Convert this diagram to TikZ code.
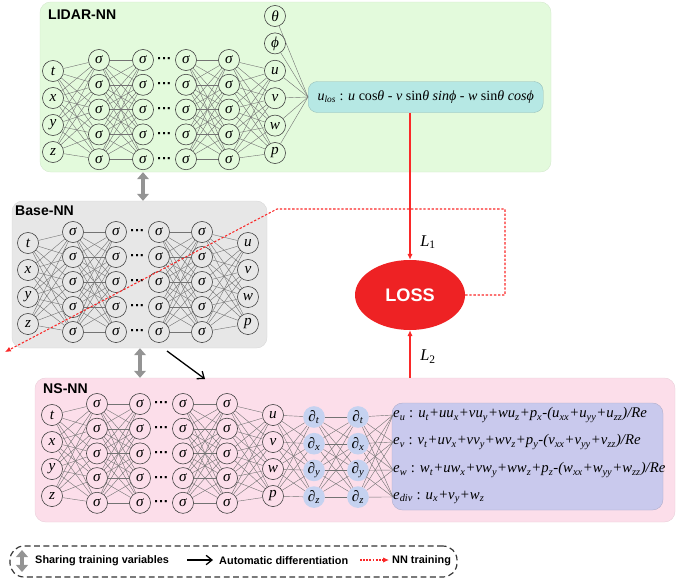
\documentclass[tikz,border=0pt]{standalone}
\usepackage{fontspec}
\setmainfont{Liberation Serif}
\setsansfont{Liberation Sans}
\usepackage{tikz}
\usetikzlibrary{arrows.meta,shapes.geometric,fit}
\definecolor{lidargreen}{RGB}{227,250,220}
\definecolor{basegray}{RGB}{231,231,231}
\definecolor{nspink}{RGB}{252,222,234}
\definecolor{loscyan}{RGB}{182,232,228}
\definecolor{eqlav}{RGB}{201,201,237}
\definecolor{derivblue}{RGB}{197,210,240}
\definecolor{lossred}{RGB}{238,34,36}
\definecolor{trainred}{RGB}{250,40,40}
\newcommand{\sbx}[1]{\textsubscript{#1}}

\begin{document}
\begin{tikzpicture}[x=0.03cm, y=-0.03cm,
  neuron/.style={circle, draw=black!75, line width=0.5pt, minimum size=18pt, inner sep=0pt, font=\fontsize{13}{13}\selectfont\itshape},
  deriv/.style={circle, fill=derivblue, minimum size=18.5pt, inner sep=0pt, font=\fontsize{13}{13}\selectfont\itshape},
  ellip/.style={inner sep=0pt, font=\fontsize{12.5}{12.5}\selectfont\sffamily\bfseries},
  link/.style={draw=black!55, line width=0.35pt},
  title/.style={anchor=west, inner sep=0pt, font=\fontsize{12}{12}\selectfont\sffamily\bfseries},
  panel/.style={rounded corners=9pt, inner sep=0pt, line width=0.3pt},
  losbox/.style={anchor=west, rounded corners=8pt, fill=loscyan, draw=loscyan!80!black, line width=0.3pt, minimum width=7.05cm, minimum height=0.93cm, font=\fontsize{12}{12}\selectfont},
  eqtext/.style={anchor=west, inner sep=0pt, font=\fontsize{12.6}{12.6}\selectfont\itshape},
  keytext/.style={anchor=west, inner sep=0pt, font=\fontsize{9.3}{9.3}\selectfont\sffamily\bfseries},
  share/.style={draw=black!42, line width=4pt, {Triangle[width=10pt,length=6pt]}-{Triangle[width=10pt,length=6pt]}},
  autodiff/.style={draw=black, line width=1.1pt, -{Straight Barb[length=5pt,width=8pt]}},
  train/.style={draw=trainred, line width=0.9pt, dash pattern=on 2pt off 1.5pt, -{Latex[length=5pt,width=4.5pt]}},
  lossline/.style={draw=trainred, line width=0.9pt, -{Latex[length=5pt,width=4.5pt]}}]
\useasboundingbox (0,0) rectangle (678,579);

% panels
\node (lidar) [panel, fill=lidargreen, draw=lidargreen!92!black, fit={(40,2) (551,172)}] {};
\node (base) [panel, fill=basegray, draw=basegray!92!black, fit={(12,201) (267,348)}] {};
\node (ns) [panel, fill=nspink, draw=nspink!92!black, fit={(35,378) (675,522)}] {};
\node (eqbox) [panel, fill=eqlav, draw=eqlav!85!black, fit={(392,403) (663,510)}] {};
\node (ltitle) at (48,15) [title] {LIDAR-NN};
\node (btitle) at (15,211) [title] {Base-NN};
\node (ntitle) at (43,389) [title] {NS-NN};

% LIDAR-NN
\foreach \i/\v in {1/t,2/x,3/y,4/z}
  \node (li-\i) at (53,{71+27*(\i-1)}) [neuron] {\v};
\foreach \c/\xx in {1/99,2/143,3/186,4/229}
  \foreach \i in {1,...,5}
    \node (lh\c-\i) at (\xx,{60+24.8*(\i-1)}) [neuron] {σ};
\foreach \i in {1,...,5}
  \node (ld-\i) at (164.5,{61+24.8*(\i-1)}) [ellip] {···};
\foreach \i/\v in {1/θ,2/ϕ,3/u,4/v,5/w,6/p}
  \node (lo-\i) at (275,{16+27.4*(\i-1)}) [neuron] {\v};
\node (ulos) at (308,97) [losbox] {\textit{u}\textsubscript{\textit{los}} : \textit{u} cos\textit{θ} - \textit{v} sin\textit{θ} \textit{sinϕ} - \textit{w} sin\textit{θ} \textit{cosϕ}};
\foreach \a in {1,...,4} \foreach \b in {1,...,5}
  \draw [link] (li-\a) -- (lh1-\b);
\foreach \a in {1,...,5} \foreach \b in {1,...,5} {
  \draw [link] (lh1-\a) -- (lh2-\b);
  \draw [link] (lh3-\a) -- (lh4-\b);
}
\foreach \a in {1,...,5} \foreach \b in {3,...,6}
  \draw [link] (lh4-\a) -- (lo-\b);
\foreach \b in {1,...,6}
  \draw [link] (lo-\b) -- (ulos.west);

% Base-NN
\foreach \i/\v in {1/t,2/x,3/y,4/z}
  \node (bi-\i) at (28,{243+27*(\i-1)}) [neuron] {\v};
\foreach \c/\xx in {1/73,2/116,3/159,4/202}
  \foreach \i in {1,...,5}
    \node (bh\c-\i) at (\xx,{232+25*(\i-1)}) [neuron] {σ};
\foreach \i in {1,...,5}
  \node (bd-\i) at (137.5,{233+25*(\i-1)}) [ellip] {···};
\foreach \i/\v in {1/u,2/v,3/w,4/p}
  \node (bo-\i) at (248,{243+27*(\i-1)}) [neuron] {\v};
\foreach \a in {1,...,4} \foreach \b in {1,...,5}
  \draw [link] (bi-\a) -- (bh1-\b);
\foreach \a in {1,...,5} \foreach \b in {1,...,5} {
  \draw [link] (bh1-\a) -- (bh2-\b);
  \draw [link] (bh3-\a) -- (bh4-\b);
}
\foreach \a in {1,...,5} \foreach \b in {1,...,4}
  \draw [link] (bh4-\a) -- (bo-\b);

% NS-NN
\foreach \i/\v in {1/t,2/x,3/y,4/z}
  \node (ni-\i) at (52,{415+27*(\i-1)}) [neuron] {\v};
\foreach \c/\xx in {1/97,2/140,3/183,4/227}
  \foreach \i in {1,...,5}
    \node (nh\c-\i) at (\xx,{404+24.7*(\i-1)}) [neuron] {σ};
\foreach \i in {1,...,5}
  \node (nd-\i) at (161.5,{405+24.7*(\i-1)}) [ellip] {···};
\foreach \i/\v in {1/u,2/v,3/w,4/p}
  \node (no-\i) at (273,{415+27*(\i-1)}) [neuron] {\v};
\foreach \c/\xx in {1/314,2/358}
  \foreach \i/\v in {1/t,2/x,3/y,4/z}
    \node (np\c-\i) at (\xx,{417+26.7*(\i-1)}) [deriv] {∂\sbx{\v}};
\node (e1) at (393,415) [eqtext] {e\sbx{u} \textup{:} u\sbx{t}+uu\sbx{x}+vu\sbx{y}+wu\sbx{z}+p\sbx{x}-(u\sbx{xx}+u\sbx{yy}+u\sbx{zz})/Re};
\node (e2) at (393,442) [eqtext] {e\sbx{v} \textup{:} v\sbx{t}+uv\sbx{x}+vv\sbx{y}+wv\sbx{z}+p\sbx{y}-(v\sbx{xx}+v\sbx{yy}+v\sbx{zz})/Re};
\node (e3) at (393,470) [eqtext] {e\sbx{w} \textup{:} w\sbx{t}+uw\sbx{x}+vw\sbx{y}+ww\sbx{z}+p\sbx{z}-(w\sbx{xx}+w\sbx{yy}+w\sbx{zz})/Re};
\node (e4) at (393,497) [eqtext] {e\sbx{div} \textup{:} u\sbx{x}+v\sbx{y}+w\sbx{z}};
\foreach \a in {1,...,4} \foreach \b in {1,...,5}
  \draw [link] (ni-\a) -- (nh1-\b);
\foreach \a in {1,...,5} \foreach \b in {1,...,5} {
  \draw [link] (nh1-\a) -- (nh2-\b);
  \draw [link] (nh3-\a) -- (nh4-\b);
}
\foreach \a in {1,...,5} \foreach \b in {1,...,4}
  \draw [link] (nh4-\a) -- (no-\b);
\foreach \a in {1,...,4} \foreach \b in {1,...,4} {
  \draw [link] (no-\a) -- (np1-\b);
  \draw [link] (np1-\a) -- (np2-\b);
  \draw [link] (np2-\a) -- (e\b.west);
}

% loss and training
\node (loss) at (410,295) [ellipse, fill=lossred, text=white, minimum width=3.3cm, minimum height=2.1cm, font=\fontsize{15.5}{15.5}\selectfont\sffamily\bfseries] {LOSS};
\draw [lossline] (ulos.south -| loss) -- (loss.north) node [pos=0.88, right=5pt, font=\fontsize{14}{14}\selectfont] {\textit{L}\sbx{1}};
\draw [lossline] (ns.north -| loss) -- (loss.south) node [pos=0.44, right=5pt, font=\fontsize{14}{14}\selectfont] {\textit{L}\sbx{2}};
\coordinate (tc1) at (505,209);
\coordinate (tc2) at (277,209);
\coordinate (tend) at (5,352);
\draw [train] (loss.east) -| (tc1) -- (tc2) -- (tend);
\draw [share] (lidar.south -| lh2-5) -- (base.north -| lh2-5);
\draw [share] (base.south -| nh2-1) -- (ns.north -| nh2-1);
\coordinate (adfrom) at (167,351);
\coordinate (adto) at (205,379);
\draw [autodiff] (adfrom) -- (adto);

% legend
\node (legend) [draw=black!80, line width=1pt, dash pattern=on 5pt off 3pt, rounded corners=12pt, inner sep=0pt, fit={(10,546) (457,577)}] {};
\coordinate (k1a) at (22,550);
\coordinate (k1b) at (22,572);
\draw [share] (k1a) -- (k1b);
\node (k1) at (35,561) [keytext] {Sharing training variables};
\coordinate (k2a) at (187,560);
\coordinate (k2b) at (213,560);
\draw [autodiff] (k2a) -- (k2b);
\node (k2) at (219,561) [keytext] {Automatic differentiation};
\coordinate (k3a) at (360,560);
\coordinate (k3b) at (389,560);
\draw [train, dash pattern=on 1.5pt off 1.2pt] (k3a) -- (k3b);
\node (k3) at (392,561) [keytext] {NN training};
\end{tikzpicture}
\end{document}
